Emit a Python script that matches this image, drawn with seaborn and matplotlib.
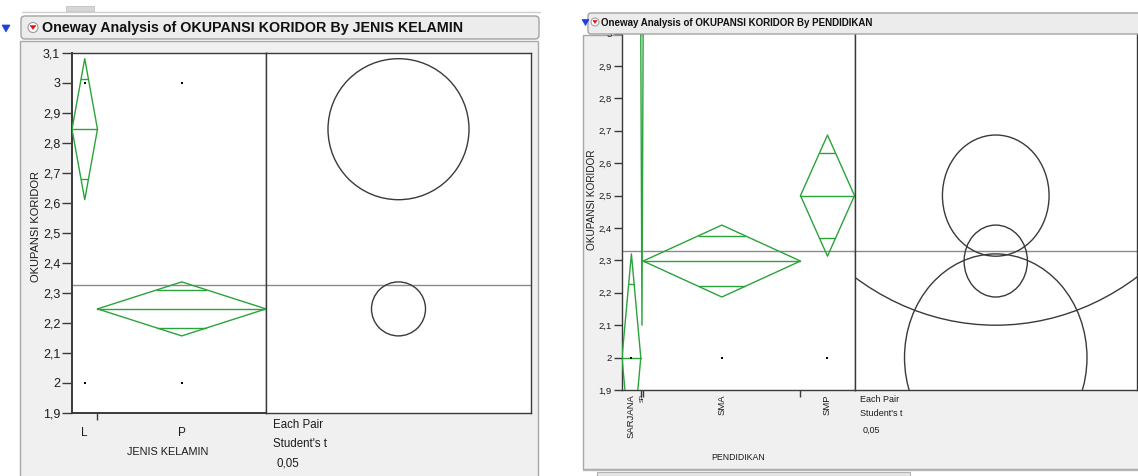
import numpy as np
import pandas as pd
import matplotlib
matplotlib.use("Agg")
import matplotlib.pyplot as plt
from matplotlib.patches import Rectangle, FancyBboxPatch, Ellipse, Polygon, Circle
import seaborn as sns

# ---- OKUPANSI KORIDOR by JENIS KELAMIN ----
sex_groups = ["L", "P"]
sex_counts = [13, 86]
sex_means = [2.846, 2.247]
sex_ci_half = [0.235, 0.090]          # 95% CI half-width of each group mean
sex_obs_group = ["L", "L", "P", "P"]
sex_obs_value = [3.0, 2.0, 3.0, 2.0]
sex_yticks = [1.9, 2.0, 2.1, 2.2, 2.3, 2.4, 2.5, 2.6, 2.7, 2.8, 2.9, 3.0, 3.1]

# ---- OKUPANSI KORIDOR by PENDIDIKAN ----
edu_groups = ["SARJANA", "SP", "SMA", "SMP"]
edu_counts = [8, 1, 67, 23]
edu_means = [2.0, 3.0, 2.298, 2.5]
edu_ci_half = [0.32, 0.90, 0.111, 0.187]
edu_obs_group = ["SARJANA", "SMA", "SMP"]
edu_obs_value = [2.0, 2.0, 2.0]
edu_yticks = [1.9, 2.0, 2.1, 2.2, 2.3, 2.4, 2.5, 2.6, 2.7, 2.8, 2.9, 3.0]

alpha_text = "0,05"

sns.set_theme(style="white")
plt.rcParams["font.family"] = ["Liberation Sans", "DejaVu Sans"]

W, H = 1138, 476
fig = plt.figure(figsize=(W / 100, H / 100), dpi=100)
fig.patch.set_facecolor("white")

GREEN = "#2aa33b"
FRAME = "#3a3a3a"
PANEL = "#f0f0f0"
TXT = "#1c1c1c"


def px_axes(x0, y0, x1, y1, z=1):
    return fig.add_axes([x0 / W, 1 - y1 / H, (x1 - x0) / W, (y1 - y0) / H], zorder=z)


def comma(v):
    s = f"{v:.1f}".rstrip("0").rstrip(".")
    return s.replace(".", ",")


# chrome layers in pixel coordinates
bg = px_axes(0, 0, W, H, z=0)
bg.set_xlim(0, W)
bg.set_ylim(H, 0)
bg.axis("off")

ov = px_axes(0, 0, W, H, z=10)
ov.set_xlim(0, W)
ov.set_ylim(H, 0)
ov.axis("off")
ov.patch.set_visible(False)


def oneway(ax, axc, groups, counts, means, half, obs_g, obs_v, ylim, yticks,
           squash, ytick_len, ytick_size, xtick_size, xpad, rotate):
    edges = np.concatenate([[0.0], np.cumsum(counts)])
    mids = (edges[:-1] + edges[1:]) / 2
    grand = float(np.dot(counts, means) / np.sum(counts))

    for a in (ax, axc):
        a.set_facecolor("white")
        a.set_ylim(*ylim)
        for sp in a.spines.values():
            sp.set_color(FRAME)
            sp.set_linewidth(1.0)
            sp.set_visible(True)
        a.axhline(grand, color="#8a8a8a", lw=1.0, zorder=1)

    # means diamonds with overlap marks
    for x0, x1, m, h in zip(edges[:-1], edges[1:], means, half):
        mid = (x0 + x1) / 2
        ax.plot([x0, mid, x1, mid, x0], [m, m + h, m, m - h, m], color=GREEN, lw=1.0, zorder=3)
        ax.plot([x0, x1], [m, m], color=GREEN, lw=1.0, zorder=3)
        d = h / np.sqrt(2)
        hw = (x1 - x0) / 2 * (1 - 1 / np.sqrt(2))
        for s in (1, -1):
            ax.plot([mid - hw, mid + hw], [m + s * d] * 2, color=GREEN, lw=1.0, zorder=3)

    pos = dict(zip(groups, mids))
    pts = pd.DataFrame({"x": [pos[g] for g in obs_g], "y": obs_v})
    sns.scatterplot(data=pts, x="x", y="y", ax=ax, color="black", marker="s",
                    s=3, linewidth=0, legend=False, zorder=4)

    ax.set_xlim(0, edges[-1])
    ax.set_yticks(yticks)
    ax.set_yticklabels([comma(v) for v in yticks])
    ax.tick_params(axis="y", left=True, direction="out", length=ytick_len, width=1,
                   color=FRAME, labelsize=ytick_size, labelcolor=TXT, pad=1.5)
    ax.set_xticks(edges[1:-1])
    ax.set_xticklabels([])
    ax.set_xticks(mids, minor=True)
    ax.set_xticklabels(groups, minor=True, rotation=90 if rotate else 0,
                       va="top", ha="center")
    ax.tick_params(axis="x", which="major", bottom=True, direction="out", length=5,
                   width=1, color=FRAME)
    ax.tick_params(axis="x", which="minor", bottom=True, length=0, labelsize=xtick_size,
                   labelcolor=TXT, pad=xpad)
    ax.set_xlabel("")
    ax.set_ylabel("")
    ax.grid(False)

    # comparison circles
    bb = axc.get_position()
    wpx = bb.width * W
    hpx = bb.height * H
    px_per_unit = hpx / (ylim[1] - ylim[0])
    halfw = (wpx / 2) / (px_per_unit * squash)
    axc.set_xlim(-halfw, halfw)
    for m, h in zip(means, half):
        axc.add_patch(Ellipse((0, m), 2 * h, 2 * h, fill=False, ec=FRAME, lw=1.0, zorder=3))
    axc.set_xticks([])
    axc.set_yticks([])
    axc.grid(False)
    return ax


# ---------- left report ----------
bg.add_patch(Rectangle((20, 41), 518, 440, fc=PANEL, ec="#a8a8a8", lw=1))
bg.plot([22, 540], [12, 12], color="#cfcfcf", lw=1)
bg.add_patch(Rectangle((66, 6), 28, 5, fc="#d6d6d6", ec="#c2c2c2", lw=0.6))
ov.add_patch(FancyBboxPatch((21, 16), 518, 23, boxstyle="round,pad=0,rounding_size=4",
                            fc="#ececec", ec="#a3a3a3", lw=1))
ov.add_patch(Polygon([(2, 25), (10, 25), (6, 32)], closed=True, fc="#1f3fd8", ec="#1f3fd8", lw=0.5))
ov.add_patch(Circle((33, 27.5), 5, fc="white", ec="#9a9a9a", lw=0.8))
ov.add_patch(Polygon([(30, 25.5), (36, 25.5), (33, 29.5)], closed=True, fc="#e01010", ec="#e01010", lw=0.3))
ov.text(42, 28, "Oneway Analysis of OKUPANSI KORIDOR By JENIS KELAMIN", fontsize=10.3,
        fontweight="bold", color="#111111", ha="left", va="center")

a1 = px_axes(72, 53, 266, 413, z=2)
a1c = px_axes(266, 53, 531, 413, z=2)
oneway(a1, a1c, sex_groups, sex_counts, sex_means, sex_ci_half, sex_obs_group, sex_obs_value,
       (1.9, 3.1), sex_yticks, squash=1.0, ytick_len=7, ytick_size=9, xtick_size=8.5,
       xpad=10, rotate=False)
a1.spines["left"].set_linewidth(1.4)
a1.spines["bottom"].set_linewidth(1.4)

bg.text(36, 226, "OKUPANSI KORIDOR", rotation=90, fontsize=8, color=TXT, ha="center", va="center")
bg.text(168, 452, "JENIS KELAMIN", fontsize=7.8, color=TXT, ha="center", va="center")
bg.text(273, 425, "Each Pair", fontsize=8.3, color=TXT, ha="left", va="center")
bg.text(273, 444, "Student's t", fontsize=8.3, color=TXT, ha="left", va="center")
bg.text(277, 463, alpha_text, fontsize=8.3, color=TXT, ha="left", va="center")

# ---------- right report ----------
bg.add_patch(Rectangle((583, 35), 560, 434, fc=PANEL, ec="#a8a8a8", lw=1))
bg.plot([583, W], [470, 470], color="#b8b8b8", lw=1)
bg.add_patch(Rectangle((597, 472), 313, 6, fc="#e4e4e4", ec="#b4b4b4", lw=0.8))
ov.add_patch(Rectangle((560, 0), W - 560, 13, fc="white", ec="none"))
ov.add_patch(FancyBboxPatch((588, 13), 560, 21, boxstyle="round,pad=0,rounding_size=3",
                            fc="#ececec", ec="#a3a3a3", lw=1))
ov.add_patch(Polygon([(582, 19.5), (589, 19.5), (585.5, 25.5)], closed=True, fc="#1f3fd8", ec="#1f3fd8", lw=0.5))
ov.add_patch(Circle((595, 22), 4, fc="white", ec="#9a9a9a", lw=0.7))
ov.add_patch(Polygon([(592.8, 20.3), (597.2, 20.3), (595, 23.6)], closed=True, fc="#e01010", ec="#e01010", lw=0.3))
ov.text(601, 23.5, "Oneway Analysis of OKUPANSI KORIDOR By PENDIDIKAN", fontsize=7.05,
        fontweight="bold", color="#111111", ha="left", va="center")

b1 = px_axes(622, 20, 854.5, 390, z=2)
b1c = px_axes(854.5, 20, 1137, 390, z=2)
oneway(b1, b1c, edu_groups, edu_counts, edu_means, edu_ci_half, edu_obs_group, edu_obs_value,
       (1.9, 3.042), edu_yticks, squash=0.88, ytick_len=6, ytick_size=6.8, xtick_size=6.8,
       xpad=3, rotate=True)
for lbl in b1.get_xticklabels(minor=True):
    if lbl.get_text() == "SP":
        lbl.set_fontsize(4.2)

bg.text(592, 200, "OKUPANSI KORIDOR", rotation=90, fontsize=7.2, color=TXT, ha="center", va="center")
bg.text(738, 457, "PENDIDIKAN", fontsize=6.3, color=TXT, ha="center", va="center")
bg.text(860, 399, "Each Pair", fontsize=6.5, color=TXT, ha="left", va="center")
bg.text(860, 414, "Student's t", fontsize=6.5, color=TXT, ha="left", va="center")
bg.text(863, 430, alpha_text, fontsize=6.5, color=TXT, ha="left", va="center")

fig.savefig("out.png", dpi=100, facecolor="white")
